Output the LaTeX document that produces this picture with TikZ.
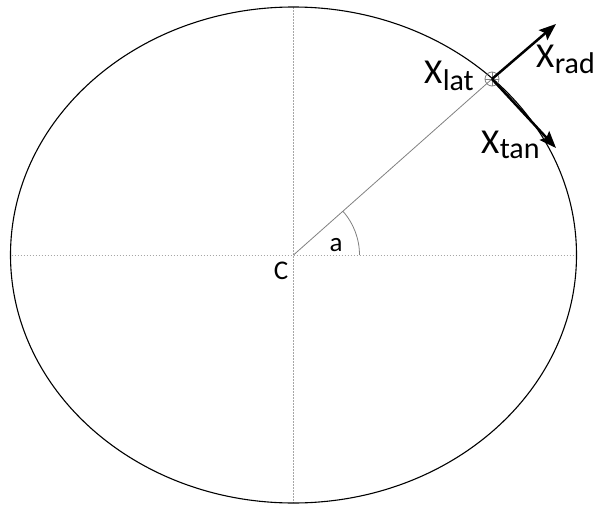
\documentclass[tikz,border=0pt]{standalone}
\usepackage{fontspec}
\setmainfont{Carlito}
\usetikzlibrary{arrows.meta}
\begin{document}
\begin{tikzpicture}[x=1pt,y=-1pt,
  guide/.style={draw=gray!70,line width=0.8pt,dash pattern=on 1.5pt off 1.5pt},
  thin gray/.style={draw=gray,line width=0.8pt},
  vec/.style={draw=black,line width=2.5pt,-{Stealth[length=17pt,width=13pt,inset=3pt]}},
  big/.style={inner sep=0pt,anchor=base west,font=\fontsize{35}{35}\selectfont},
  sub/.style={inner sep=0pt,anchor=base west,font=\fontsize{30}{30}\selectfont},
  lbl/.style={inner sep=0pt,font=\fontsize{27}{27}\selectfont}]
\useasboundingbox (0,0) rectangle (595,506);
\coordinate (c) at (293.5,255);
\coordinate (L) at (11.5,255);
\coordinate (R) at (576.5,255);
\coordinate (T) at (293.5,7);
\coordinate (B) at (293.5,503);
\coordinate (p) at (492,79);
\coordinate (rad) at (556,24);
\coordinate (tan) at (556,148);
% guides
\draw[guide] (L) -- (R);
\draw[guide] (T) -- (B);
% ellipse
\draw[black,line width=1.1pt] (c) ellipse [x radius=283, y radius=248];
% radius line and angle
\draw[thin gray] (c) -- (p);
\draw[thin gray] ([xshift=66pt]c) arc[start angle=0,end angle=-41.5,radius=66];
% marker
\draw[thin gray] (p) circle[radius=7];
\draw[thin gray] ([xshift=-7pt]p) -- ([xshift=7pt]p) ([yshift=-7pt]p) -- ([yshift=7pt]p);
% vectors
\draw[vec] (p) -- (rad);
\draw[vec] (p) -- (tan);
% labels
\node[lbl] (C) at (281,271) {C};
\node[lbl] (a) at (336,245) {a};
\node[big] (xl) at (424,83) {X};
\node[sub] (xls) at (xl.base east) [yshift=-7pt] {lat};
\node[big] (xt) at (481,153) {X};
\node[sub] (xts) at (xt.base east) [yshift=-5pt] {tan};
\node[big] (xr) at (536,67) {X};
\node[sub] (xrs) at (xr.base east) [yshift=-6pt] {rad};
\end{tikzpicture}
\end{document}
